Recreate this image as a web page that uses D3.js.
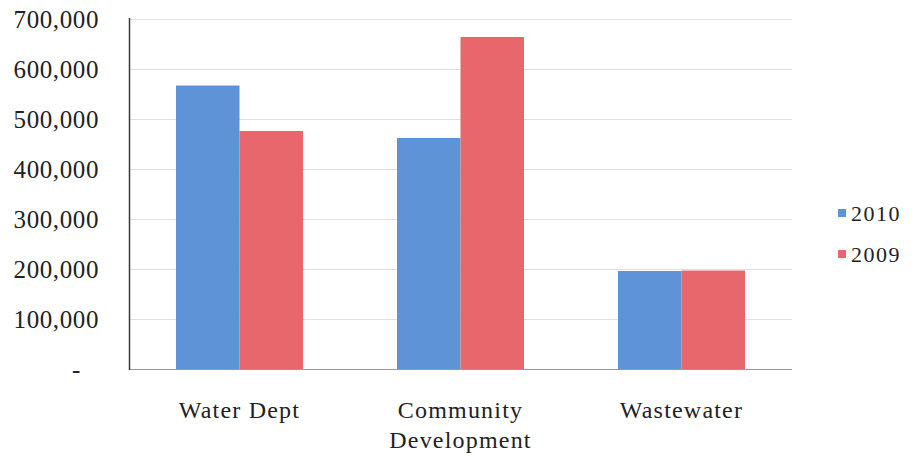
<!DOCTYPE html>
<html>
<head>
<meta charset="utf-8">
<script src="https://cdn.jsdelivr.net/npm/d3@7"></script>
<style>
  html, body { margin: 0; padding: 0; background: #fff; }
  svg { display: block; }
  text { font-family: "Liberation Serif", "Times New Roman", serif; fill: #222; }
</style>
</head>
<body>
<svg id="chart" width="915" height="456"></svg>
<script>
// Departments compared across two fiscal years
const categories = ["Water Dept", "Community Development", "Wastewater"];
const categoryLines = [["Water Dept"], ["Community", "Development"], ["Wastewater"]];
const seriesNames = ["2010", "2009"];
const values2010 = [567000, 462000, 196000];
const values2009 = [476000, 664000, 197000];
const yTicks = [0, 100000, 200000, 300000, 400000, 500000, 600000, 700000];
const seriesColors = ["#5f93d8", "#e8676c"];

const seriesValues = [values2010, values2009];
const rows = categories.map((c, i) => ({
  category: c,
  lines: categoryLines[i],
  values: seriesNames.map((s, j) => ({ series: s, value: seriesValues[j][i] }))
}));

const svg = d3.select("#chart");
const plot = { left: 129, right: 792, top: 19, bottom: 369 };

const y = d3.scaleLinear().domain([0, 700000]).range([plot.bottom, plot.top]);
const x0 = d3.scaleBand().domain(categories).range([plot.left, plot.right]).padding(0);
const x1 = d3.scaleBand().domain(seriesNames).range([0, x0.bandwidth()])
  .paddingInner(0).paddingOuter(0.74);
const color = d3.scaleOrdinal().domain(seriesNames).range(seriesColors);

// horizontal gridlines
svg.append("g")
  .selectAll("line")
  .data(yTicks.filter(t => t > 0))
  .join("line")
  .attr("x1", plot.left)
  .attr("x2", plot.right)
  .attr("y1", d => Math.round(y(d)) + 0.5)
  .attr("y2", d => Math.round(y(d)) + 0.5)
  .attr("stroke", "#e0e0e0")
  .attr("stroke-width", 1);

// bars
svg.append("g")
  .selectAll("g")
  .data(rows)
  .join("g")
  .attr("transform", d => `translate(${x0(d.category)},0)`)
  .selectAll("rect")
  .data(d => d.values)
  .join("rect")
  .attr("x", d => x1(d.series))
  .attr("width", x1.bandwidth())
  .attr("y", d => y(d.value))
  .attr("height", d => y(0) - y(d.value))
  .attr("fill", d => color(d.series));

// category axis baseline
svg.append("line")
  .attr("x1", plot.left).attr("x2", plot.right)
  .attr("y1", plot.bottom + 0.5).attr("y2", plot.bottom + 0.5)
  .attr("stroke", "#9a9a9a").attr("stroke-width", 1.2);

// value axis line
svg.append("line")
  .attr("x1", plot.left + 0.5).attr("x2", plot.left + 0.5)
  .attr("y1", plot.top - 1).attr("y2", plot.bottom + 1)
  .attr("stroke", "#3a3a3a").attr("stroke-width", 1.5);

// value axis labels (accounting format: zero shown as a dash)
const yAxis = d3.axisLeft(y)
  .tickValues(yTicks)
  .tickSize(0)
  .tickPadding(30)
  .tickFormat(d => d === 0 ? "-" : d3.format(",")(d));
const gy = svg.append("g").attr("transform", `translate(${plot.left},0)`).call(yAxis);
gy.select(".domain").remove();
gy.selectAll("text")
  .style("font-family", "'Liberation Serif', 'Times New Roman', serif")
  .style("font-size", "25px")
  .style("letter-spacing", "0.6px")
  .attr("fill", "#222")
  .attr("dy", "0.34em")
  .attr("dx", d => d === 0 ? -18 : 0);

// category labels
const catLabels = svg.append("g")
  .selectAll("text")
  .data(rows)
  .join("text")
  .attr("text-anchor", "middle")
  .attr("x", d => x0(d.category) + x0.bandwidth() / 2)
  .attr("y", 418)
  .style("font-size", "24px")
  .style("letter-spacing", "1.2px");
catLabels.selectAll("tspan")
  .data(d => d.lines)
  .join("tspan")
  .attr("x", function () { return d3.select(this.parentNode).attr("x"); })
  .attr("dy", (d, i) => i === 0 ? 0 : 30)
  .text(d => d);

// legend
const legend = svg.append("g")
  .selectAll("g")
  .data(seriesNames)
  .join("g")
  .attr("transform", (d, i) => `translate(838,${209 + i * 41})`);
legend.append("rect")
  .attr("width", 8).attr("height", 8)
  .attr("fill", d => color(d));
legend.append("text")
  .attr("x", 13)
  .attr("y", 12)
  .style("font-size", "22px")
  .style("letter-spacing", "1.5px")
  .text(d => d);
</script>
</body>
</html>
